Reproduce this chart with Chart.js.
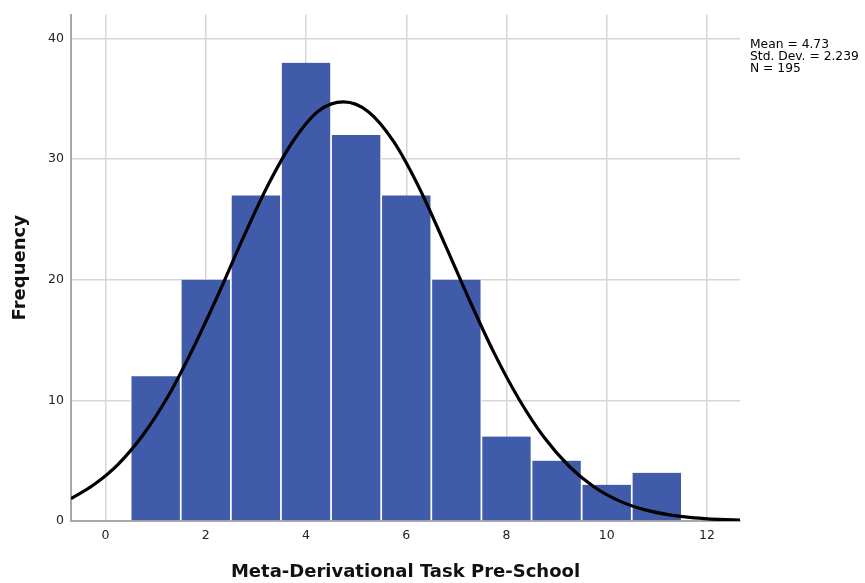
<!DOCTYPE html>
<html>
<head>
<meta charset="utf-8">
<script src="https://cdn.jsdelivr.net/npm/chart.js@4/dist/chart.umd.min.js"></script>
<style>
html,body{margin:0;padding:0;background:#fff;}
#wrap{width:865px;height:583px;position:relative;}
</style>
</head>
<body>
<div id="wrap"><canvas id="c" width="865" height="583"></canvas></div>
<script>
const binCenters = [1, 2, 3, 4, 5, 6, 7, 8, 9, 10, 11];
const frequencies = [12, 20, 27, 38, 32, 27, 20, 7, 5, 3, 4];
const curveX = [-0.69, -0.25, 0.25, 0.75, 1.25, 1.75, 2.25, 2.75, 3.25, 3.75, 4.25, 4.75, 5.25, 5.75, 6.25, 6.75, 7.25, 7.75, 8.25, 8.75, 9.25, 9.75, 10.25, 10.75, 11.25, 11.75, 12.25, 12.66];
const curveY = [1.86, 2.96, 4.70, 7.15, 10.36, 14.35, 18.80, 23.52, 27.92, 31.55, 34.00, 34.75, 33.92, 31.45, 27.70, 23.15, 18.42, 13.96, 10.10, 6.94, 4.54, 2.82, 1.67, 0.94, 0.51, 0.26, 0.13, 0.07];
const xTicks = [0, 2, 4, 6, 8, 10, 12];
const yTicks = [0, 10, 20, 30, 40];
const statsLines = ['Mean = 4.73', 'Std. Dev. = 2.239', 'N = 195'];
const xTitle = 'Meta-Derivational Task Pre-School';
const yTitle = 'Frequency';

const FONT = '"DejaVu Sans", "Liberation Sans", Arial, sans-serif';

const statsPlugin = {
  id: 'stats',
  afterDraw(chart) {
    const ctx = chart.ctx;
    ctx.save();
    ctx.fillStyle = '#000';
    ctx.font = '12.3px ' + FONT;
    ctx.textBaseline = 'alphabetic';
    ctx.textAlign = 'left';
    const x = chart.chartArea.right + 10;
    statsLines.forEach((t, i) => ctx.fillText(t, x, 47.5 + i * 12.3));
    ctx.restore();
  }
};

new Chart(document.getElementById('c'), {
  type: 'bar',
  data: {
    datasets: [
      {
        type: 'line',
        data: curveX.map((x, i) => ({x: x, y: curveY[i]})),
        borderColor: '#000',
        borderWidth: 3.2,
        pointRadius: 0,
        cubicInterpolationMode: 'monotone',
        fill: false,
        order: 0
      },
      {
        type: 'bar',
        data: binCenters.map((x, i) => ({x: x, y: frequencies[i]})),
        backgroundColor: '#3f5ba9',
        borderColor: '#ffffff',
        borderWidth: {left: 1.2, right: 1.2, top: 0, bottom: 0},
        borderSkipped: false,
        barPercentage: 1,
        categoryPercentage: 1,
        order: 1
      }
    ]
  },
  options: {
    responsive: false,
    animation: false,
    layout: {padding: {left: 0, right: 125, top: 10, bottom: 0}},
    plugins: {legend: {display: false}, tooltip: {enabled: false}},
    scales: {
      x: {
        type: 'linear',
        offset: false,
        min: -0.69,
        max: 12.66,
        afterBuildTicks: s => { s.ticks = xTicks.map(v => ({value: v})); },
        afterFit: s => { s.height = 62; },
        ticks: {
          color: '#222',
          font: {size: 12.5, family: FONT},
          padding: 7,
          maxRotation: 0
        },
        grid: {color: '#d6d6d6', lineWidth: 1.5, drawTicks: false, offset: false},
        border: {color: '#a8a8a8', width: 2},
        title: {
          display: true,
          text: xTitle,
          color: '#111',
          font: {size: 18, weight: 'bold', family: FONT},
          padding: {top: 11, bottom: 0}
        }
      },
      y: {
        min: 0,
        max: 42,
        afterBuildTicks: s => { s.ticks = yTicks.map(v => ({value: v})); },
        afterFit: s => { s.width = 71; },
        ticks: {
          color: '#222',
          font: {size: 12.5, family: FONT},
          padding: 7
        },
        grid: {
          color: ctx => ctx.tick && ctx.tick.value === 0 ? 'rgba(0,0,0,0)' : '#d6d6d6',
          lineWidth: 1.5,
          drawTicks: false
        },
        border: {color: '#a8a8a8', width: 2},
        title: {
          display: true,
          text: yTitle,
          color: '#111',
          font: {size: 18, weight: 'bold', family: FONT},
          padding: {top: 10, bottom: 0}
        }
      }
    }
  },
  plugins: [statsPlugin]
});
</script>
</body>
</html>
